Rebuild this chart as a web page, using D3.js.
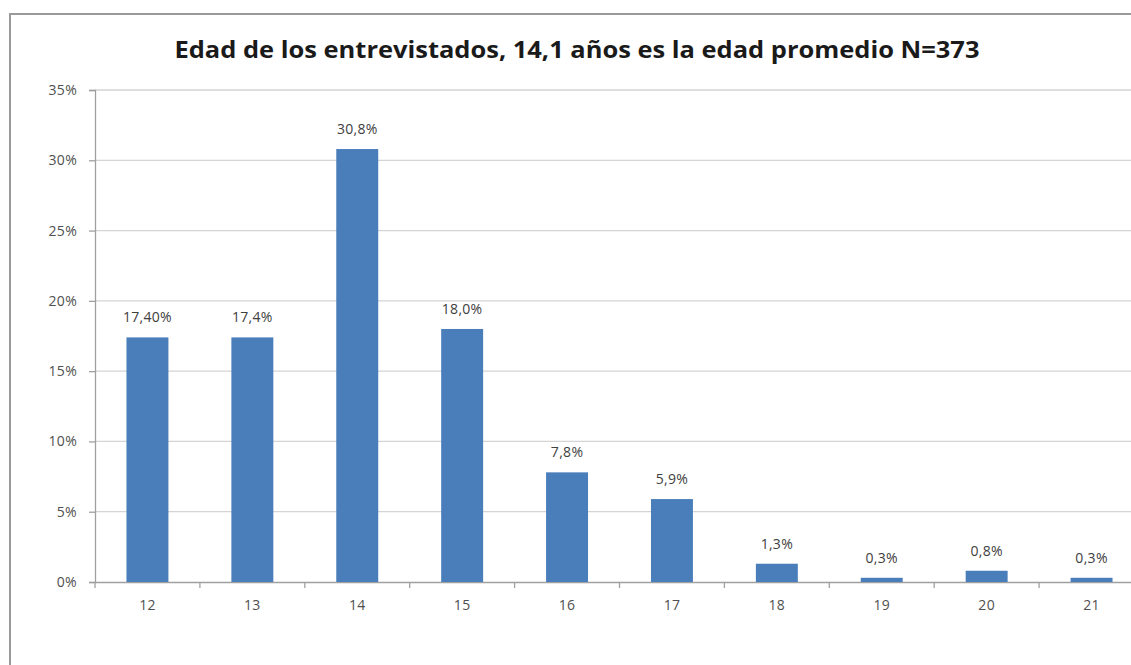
<!DOCTYPE html>
<html><head><meta charset="utf-8">
<script src="https://cdn.jsdelivr.net/npm/d3@7"></script>
<style>body{margin:0;background:#fff;} svg{display:block;}</style>
</head><body>
<svg id="c" width="1131" height="665"></svg>
<script>
const categories = ["12","13","14","15","16","17","18","19","20","21"];
const values = [17.4, 17.4, 30.8, 18.0, 7.8, 5.9, 1.3, 0.3, 0.8, 0.3];
const valueLabels = ["17,40%","17,4%","30,8%","18,0%","7,8%","5,9%","1,3%","0,3%","0,8%","0,3%"];
const yTicks = [0,5,10,15,20,25,30,35];
const title = "Edad de los entrevistados, 14,1 años es la edad promedio N=373";

const svg = d3.select("#c");
const W = 1131, H = 665;
const m = {left:95, top:90, bottom:83};
const plotW = 1049;
const x = d3.scaleBand().domain(categories).range([m.left, m.left+plotW]).paddingInner(0.6).paddingOuter(0.3);
const y = d3.scaleLinear().domain([0,35]).range([582, 90]);
const lblFont = "'Open Sans',sans-serif";

// frame
svg.append("path").attr("d", `M10,${H+5} L10,14 L${W+5},14`).attr("fill","none").attr("stroke","#9a9a9a").attr("stroke-width",2);

// gridlines
svg.append("g").selectAll("line").data(yTicks.filter(d=>d>0)).join("line")
  .attr("x1", m.left).attr("x2", m.left+plotW)
  .attr("y1", d=>y(d)).attr("y2", d=>y(d))
  .attr("stroke","#d4d4d4").attr("stroke-width",1.3);

// y axis
const ya = svg.append("g").attr("transform",`translate(${m.left},0)`)
  .call(d3.axisLeft(y).tickValues(yTicks).tickSize(6).tickPadding(12).tickFormat(d=>d+"%"));
ya.select(".domain").attr("stroke","#a0a0a0").attr("stroke-width",1.3);
ya.selectAll(".tick line").attr("stroke","#a0a0a0").attr("stroke-width",1.3);
ya.selectAll("text").attr("fill","#505050").style("font-family",lblFont).style("font-size","14px").style("letter-spacing","0.3px");

// x axis
const xa = svg.append("g").attr("transform",`translate(0,${y(0)})`)
  .call(d3.axisBottom(x).tickSize(0).tickPadding(18));
xa.select(".domain").attr("stroke","#a0a0a0").attr("stroke-width",1.3);
xa.selectAll("text").attr("fill","#505050").style("font-family",lblFont).style("font-size","14px").style("letter-spacing","0.3px");
// category boundary ticks
const step = x.step();
const bounds = d3.range(categories.length+1).map(i => x(categories[0]) - x.paddingOuter()*step + i*step);
xa.append("g").selectAll("line").data(bounds).join("line")
  .attr("x1", d=>d).attr("x2", d=>d).attr("y1",0).attr("y2",6)
  .attr("stroke","#a0a0a0").attr("stroke-width",1.3);

// bars
svg.append("g").selectAll("rect").data(values).join("rect")
  .attr("x",(d,i)=>x(categories[i])).attr("width",x.bandwidth())
  .attr("y",d=>y(d)).attr("height",d=>y(0)-y(d))
  .attr("fill","#4a7ebb");

// labels
svg.append("g").selectAll("text").data(values).join("text")
  .attr("x",(d,i)=>x(categories[i])+x.bandwidth()/2).attr("y",d=>y(d)-15)
  .attr("text-anchor","middle").attr("fill","#404040")
  .style("font-family",lblFont).style("font-size","14px").style("letter-spacing","0.3px")
  .text((d,i)=>valueLabels[i]);

// title
svg.append("text").attr("x",577).attr("y",58).attr("text-anchor","middle")
  .attr("fill","#1a1a1a").style("font-family","'Open Sans',sans-serif").style("font-weight","bold").style("font-size","23px")
  .attr("textLength",805).attr("lengthAdjust","spacingAndGlyphs")
  .text(title);
</script>
</body></html>
